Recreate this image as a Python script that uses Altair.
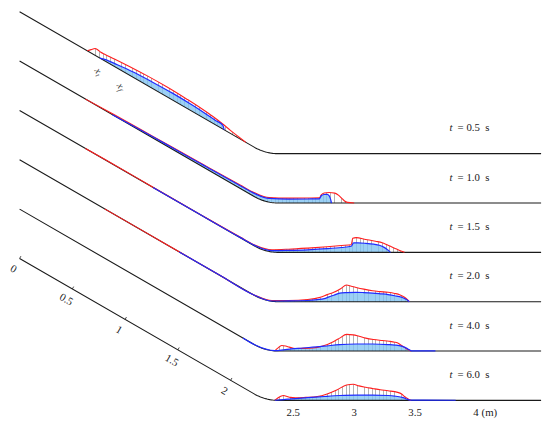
import math
import numpy as np
import pandas as pd
import altair as alt

# ---------------- values ----------------
TIMES = [0.5, 1.0, 1.5, 2.0, 4.0, 6.0]

SLOPE_TICKS = [0.0, 0.5, 1.0, 1.5, 2.0]
SLOPE_TICK_LABELS = ["0", "0.5", "1", "1.5", "2"]
FLAT_TICKS = [2.5, 3.0, 3.5, 4.0]
FLAT_TICK_LABELS = ["2.5", "3", "3.5", "4"]
UNIT_LABEL = "(m)"

# flow profiles: horizontal distance from the top of the chute (m), vertical depth (m)
# red = upper (total) surface, blue = lower layer
T05_RED_X = [0.556, 0.587, 0.619, 0.643, 0.667, 0.698, 0.778, 0.897, 1.056, 1.214, 1.373, 1.492, 1.587, 1.667, 1.730, 1.794, 1.857]
T05_RED_H = [0, 0.028, 0.056, 0.057, 0.052, 0.054, 0.062, 0.071, 0.079, 0.081, 0.075, 0.067, 0.056, 0.041, 0.025, 0.012, 0]
T05_BLUE_X = [0.659, 0.698, 0.802, 0.937, 1.095, 1.254, 1.413, 1.532, 1.611, 1.667, 1.679]
T05_BLUE_H = [0, 0.012, 0.028, 0.044, 0.052, 0.056, 0.052, 0.044, 0.036, 0.032, 0]

T10_RED_X = [0.540, 0.778, 1.095, 1.492, 1.810, 1.929, 2.048, 2.206, 2.365, 2.460, 2.476, 2.500, 2.540, 2.587, 2.619, 2.643, 2.667, 2.690, 2.746]
T10_RED_H = [0, 0.008, 0.014, 0.021, 0.028, 0.032, 0.037, 0.040, 0.041, 0.042, 0.067, 0.082, 0.086, 0.081, 0.063, 0.040, 0.016, 0.005, 0]
T10_BLUE_X = [0.762, 0.937, 1.175, 1.492, 1.810, 1.929, 2.048, 2.206, 2.365, 2.460, 2.476, 2.500, 2.524, 2.540, 2.552, 2.560]
T10_BLUE_H = [0, 0.006, 0.011, 0.016, 0.022, 0.026, 0.030, 0.032, 0.033, 0.034, 0.060, 0.070, 0.071, 0.060, 0.032, 0]

T15_RED_X = [0.540, 0.698, 1.095, 1.492, 1.810, 1.929, 2.071, 2.206, 2.365, 2.524, 2.643, 2.722, 2.734, 2.762, 2.841, 2.921, 2.976, 3.016, 3.056, 3.087, 3.119, 3.159]
T15_RED_H = [0, 0.002, 0.002, 0.002, 0.006, 0.010, 0.018, 0.026, 0.035, 0.046, 0.056, 0.063, 0.115, 0.121, 0.106, 0.091, 0.079, 0.062, 0.044, 0.030, 0.016, 0]
T15_BLUE_X = [1.095, 1.492, 1.810, 1.929, 2.071, 2.206, 2.365, 2.524, 2.643, 2.722, 2.742, 2.778, 2.841, 2.905, 2.952, 2.992, 3.016, 3.036, 3.044]
T15_BLUE_H = [0, 0.001, 0.003, 0.006, 0.010, 0.016, 0.021, 0.030, 0.040, 0.050, 0.078, 0.078, 0.074, 0.067, 0.058, 0.041, 0.024, 0.008, 0]

T20_RED_X = [0.698, 1.016, 1.310, 1.651, 1.929, 2.071, 2.206, 2.365, 2.468, 2.524, 2.579, 2.635, 2.683, 2.722, 2.762, 2.825, 2.897, 2.960, 3.024, 3.079, 3.119, 3.159, 3.183, 3.198]
T20_RED_H = [0, 0.001, 0.001, 0.001, 0.002, 0.006, 0.010, 0.018, 0.037, 0.058, 0.077, 0.107, 0.137, 0.127, 0.117, 0.103, 0.090, 0.083, 0.077, 0.068, 0.058, 0.037, 0.017, 0]
T20_BLUE_X = [1.310, 1.651, 1.929, 2.071, 2.206, 2.365, 2.444, 2.500, 2.540, 2.579, 2.627, 2.683, 2.762, 2.825, 2.897, 2.960, 3.024, 3.079, 3.135, 3.167, 3.187, 3.198]
T20_BLUE_H = [0, 0.001, 0.002, 0.002, 0.006, 0.010, 0.017, 0.025, 0.040, 0.053, 0.071, 0.075, 0.077, 0.075, 0.071, 0.065, 0.058, 0.049, 0.037, 0.022, 0.010, 0]

T40_RED_X = [2.095, 2.119, 2.151, 2.183, 2.214, 2.262, 2.325, 2.405, 2.460, 2.500, 2.540, 2.579, 2.627, 2.683, 2.738, 2.786, 2.841, 2.905, 2.976, 3.032, 3.079, 3.111, 3.135, 3.159, 3.183, 3.214]
T40_RED_H = [0, 0.024, 0.045, 0.041, 0.032, 0.021, 0.022, 0.025, 0.034, 0.045, 0.060, 0.079, 0.106, 0.137, 0.133, 0.121, 0.106, 0.095, 0.087, 0.081, 0.073, 0.062, 0.045, 0.030, 0.014, 0]
T40_BLUE_X = [1.833, 1.929, 2.095, 2.167, 2.230, 2.325, 2.405, 2.500, 2.627, 2.762, 2.897, 3.024, 3.079, 3.135, 3.167, 3.187, 3.202, 3.214, 3.278, 3.413]
T40_BLUE_H = [0, 0, 0.002, 0.010, 0.018, 0.025, 0.032, 0.040, 0.053, 0.058, 0.058, 0.053, 0.049, 0.040, 0.028, 0.017, 0.008, 0.002, 0.002, 0.001]

T60_RED_X = [2.095, 2.119, 2.143, 2.167, 2.190, 2.222, 2.262, 2.349, 2.444, 2.524, 2.603, 2.683, 2.738, 2.786, 2.841, 2.897, 2.960, 3.024, 3.103, 3.135, 3.159, 3.183, 3.198, 3.214]
T60_RED_H = [0, 0.020, 0.034, 0.040, 0.034, 0.025, 0.021, 0.025, 0.032, 0.053, 0.085, 0.127, 0.133, 0.119, 0.108, 0.098, 0.087, 0.079, 0.066, 0.052, 0.032, 0.016, 0.005, 0]
T60_BLUE_X = [2.095, 2.167, 2.230, 2.365, 2.500, 2.627, 2.762, 2.897, 3.024, 3.079, 3.135, 3.167, 3.183, 3.206, 3.317, 3.579]
T60_BLUE_H = [0, 0.006, 0.013, 0.022, 0.032, 0.040, 0.044, 0.044, 0.040, 0.035, 0.026, 0.016, 0.008, 0.002, 0.002, 0.001]

PROFILES = [
    (T05_RED_X, T05_RED_H, T05_BLUE_X, T05_BLUE_H),
    (T10_RED_X, T10_RED_H, T10_BLUE_X, T10_BLUE_H),
    (T15_RED_X, T15_RED_H, T15_BLUE_X, T15_BLUE_H),
    (T20_RED_X, T20_RED_H, T20_BLUE_X, T20_BLUE_H),
    (T40_RED_X, T40_RED_H, T40_BLUE_X, T40_BLUE_H),
    (T60_RED_X, T60_RED_H, T60_BLUE_X, T60_BLUE_H),
]

# ---------------- chute geometry ----------------
SLOPE_DEG = 30.0
DROP = 1.165        # vertical drop from top of chute to the run-out (m)
RADIUS = 0.4        # radius of the curved transition (m)
PANEL_GAP = 0.405   # vertical offset between stacked snapshots (m)
X_RIGHT = 4.28

TH = math.radians(SLOPE_DEG)
SN, CS = math.sin(TH), math.cos(TH)
XC = DROP / math.tan(TH)
TAN_LEN = RADIUS * math.tan(TH / 2)
XA = XC - TAN_LEN * CS
XH = XC + TAN_LEN
S_A = XA / CS
S_H = S_A + RADIUS * TH


def bed_z(x):
    if x <= XA:
        return -x * math.tan(TH)
    if x >= XH:
        return -DROP
    return -DROP + RADIUS - math.sqrt(max(RADIUS ** 2 - (x - XH) ** 2, 0.0))


# ---------------- layout ----------------
W, H = 534, 411
X_DOMAIN = [-0.0952, 4.2875]
Y_DOMAIN = [-1.3177, 2.0556]
PX_PER_M = W / (X_DOMAIN[1] - X_DOMAIN[0])

FONT = "Liberation Serif"
FS = 10.8
INK = "#1a1a1a"
RED = "#ff1f1f"
BLUE = "#1f2bff"
FILL = "#7fc3f2"
HATCH = "#b3b3b3"
PAPER = "#ffffff"


def xq(f):
    return alt.X(f"{f}:Q", scale=alt.Scale(domain=X_DOMAIN, nice=False, zero=False), axis=None)


def yq(f):
    return alt.Y(f"{f}:Q", scale=alt.Scale(domain=Y_DOMAIN, nice=False, zero=False), axis=None)


# ---------------- tables ----------------
arc_x = np.linspace(XA, XH, 18)
bed_x = np.concatenate([[0.0], arc_x, [X_RIGHT]])

bed_rows, red_rows, blue_rows = [], [], []
for i, (rx, rh, bx, bh) in enumerate(PROFILES):
    off = (len(PROFILES) - 1 - i) * PANEL_GAP
    for x in bed_x:
        bed_rows.append(dict(panel=i, X=float(x), Z=off + bed_z(float(x))))
    for x, h in zip(rx, rh):
        b = off + bed_z(x)
        red_rows.append(dict(panel=i, X=x, top=b + h, base=b))
    for x, h in zip(bx, bh):
        b = off + bed_z(x)
        blue_rows.append(dict(panel=i, X=x, top=b + h, base=b))

bed_df = pd.DataFrame(bed_rows)
red_df = pd.DataFrame(red_rows)
blue_df = pd.DataFrame(blue_rows)

TICK_LEN = 0.022
LAB_OFF = 0.103
tick_rows = []
for s, lab in zip(SLOPE_TICKS, SLOPE_TICK_LABELS):
    px, pz = s * CS, -s * SN
    tick_rows.append(dict(X=px, Z=pz, X2=px + TICK_LEN * SN, Z2=pz + TICK_LEN * CS,
                          lx=px - LAB_OFF * SN, lz=pz - LAB_OFF * CS, label=lab))
tick_df = pd.DataFrame(tick_rows)

flat_df = pd.DataFrame(dict(X=[XH + (s - S_H) for s in FLAT_TICKS],
                            Z=[-DROP - 0.106] * len(FLAT_TICKS),
                            label=FLAT_TICK_LABELS))
unit_df = flat_df.tail(1).assign(label=UNIT_LABEL)

time_df = pd.DataFrame(dict(
    X=[3.529] * len(TIMES),
    X2=[3.595] * len(TIMES),
    Z=[(len(TIMES) - 1 - i) * PANEL_GAP - DROP + 0.183 for i in range(len(TIMES))],
    rest=["=\u00a0" + f"{t:.1f}" + "\u00a0\u00a0s" for t in TIMES],
))

# annotation of tail / front on the first snapshot
ann_rows = []
for xs, d, sub in [(0.700, 0.105, "t"), (0.890, 0.120, "f")]:
    b = (len(PROFILES) - 1) * PANEL_GAP + bed_z(xs)
    ann_rows.append(dict(X=xs - d * SN, Z=b - d * CS, main="x", sub=sub))
ann_df = pd.DataFrame(ann_rows)


def hatch_gradient(x0, x1, period=3.7, lw=0.85):
    wpx = (x1 - x0) * PX_PER_M
    stops = []
    i = 0
    while True:
        a = (i * period + 0.6) / wpx
        b = (i * period + 0.6 + lw) / wpx
        if b > 1:
            break
        stops += [alt.GradientStop(color=PAPER, offset=a), alt.GradientStop(color=HATCH, offset=a),
                  alt.GradientStop(color=HATCH, offset=b), alt.GradientStop(color=PAPER, offset=b)]
        i += 1
    return alt.Gradient(gradient="linear", stops=stops, x1=0, x2=1, y1=0, y2=0)


# ---------------- layers ----------------
layers = []

# hatched region between bed and upper surface
for i in range(len(PROFILES)):
    sub = red_df[red_df.panel == i]
    layers.append(alt.Chart(sub).mark_area(
        color=hatch_gradient(sub.X.min(), sub.X.max()), interpolate="monotone").encode(
        x=xq("X"), y=yq("top"), y2=alt.Y2("base:Q")))

# lower layer: translucent blue so the hatching shows through
layers.append(alt.Chart(blue_df).mark_area(color=FILL, opacity=0.78, interpolate="monotone").encode(
    x=xq("X"), y=yq("top"), y2=alt.Y2("base:Q"), detail="panel:N"))

layers.append(alt.Chart(bed_df).mark_line(color=INK, strokeWidth=1.1).encode(
    x=xq("X"), y=yq("Z"), detail="panel:N"))

layers.append(alt.Chart(red_df).mark_line(color=RED, strokeWidth=1.1, interpolate="monotone").encode(
    x=xq("X"), y=yq("top"), detail="panel:N"))

layers.append(alt.Chart(blue_df).mark_line(color=BLUE, strokeWidth=1.2, interpolate="monotone").encode(
    x=xq("X"), y=yq("top"), detail="panel:N"))

layers.append(alt.Chart(tick_df).mark_rule(color=INK, strokeWidth=0.8).encode(
    x=xq("X"), y=yq("Z"), x2=alt.X2("X2:Q"), y2=alt.Y2("Z2:Q")))

layers.append(alt.Chart(tick_df).mark_text(font=FONT, fontSize=FS, color=INK, angle=30,
                                           align="center", baseline="middle").encode(
    x=xq("lx"), y=yq("lz"), text="label:N"))

layers.append(alt.Chart(flat_df).mark_text(font=FONT, fontSize=FS, color=INK, dx=6.5,
                                           align="center", baseline="middle").encode(
    x=xq("X"), y=yq("Z"), text="label:N"))

layers.append(alt.Chart(unit_df).mark_text(font=FONT, fontSize=FS, color=INK, dx=12,
                                           align="left", baseline="middle").encode(
    x=xq("X"), y=yq("Z"), text="label:N"))

layers.append(alt.Chart(time_df).mark_text(font=FONT, fontSize=FS, color=INK, fontStyle="italic",
                                           align="left", baseline="alphabetic").encode(
    x=xq("X"), y=yq("Z"), text=alt.value("t")))

layers.append(alt.Chart(time_df).mark_text(font=FONT, fontSize=FS, color=INK,
                                           align="left", baseline="alphabetic").encode(
    x=xq("X2"), y=yq("Z"), text="rest:N"))

layers.append(alt.Chart(ann_df).mark_text(font=FONT, fontSize=10, color="#333333", fontStyle="italic",
                                          angle=60, align="right", baseline="middle", dx=1).encode(
    x=xq("X"), y=yq("Z"), text="main:N"))

layers.append(alt.Chart(ann_df).mark_text(font=FONT, fontSize=7, color="#333333", fontStyle="italic",
                                          angle=60, align="left", baseline="middle", dx=1.5, dy=2.5).encode(
    x=xq("X"), y=yq("Z"), text="sub:N"))

chart = alt.layer(*layers).properties(
    width=W, height=H, padding=0, autosize=alt.AutoSizeParams(type="none")
).configure_view(stroke=None)

chart.save("out.html", embed_options={"renderer": "svg", "actions": False})
